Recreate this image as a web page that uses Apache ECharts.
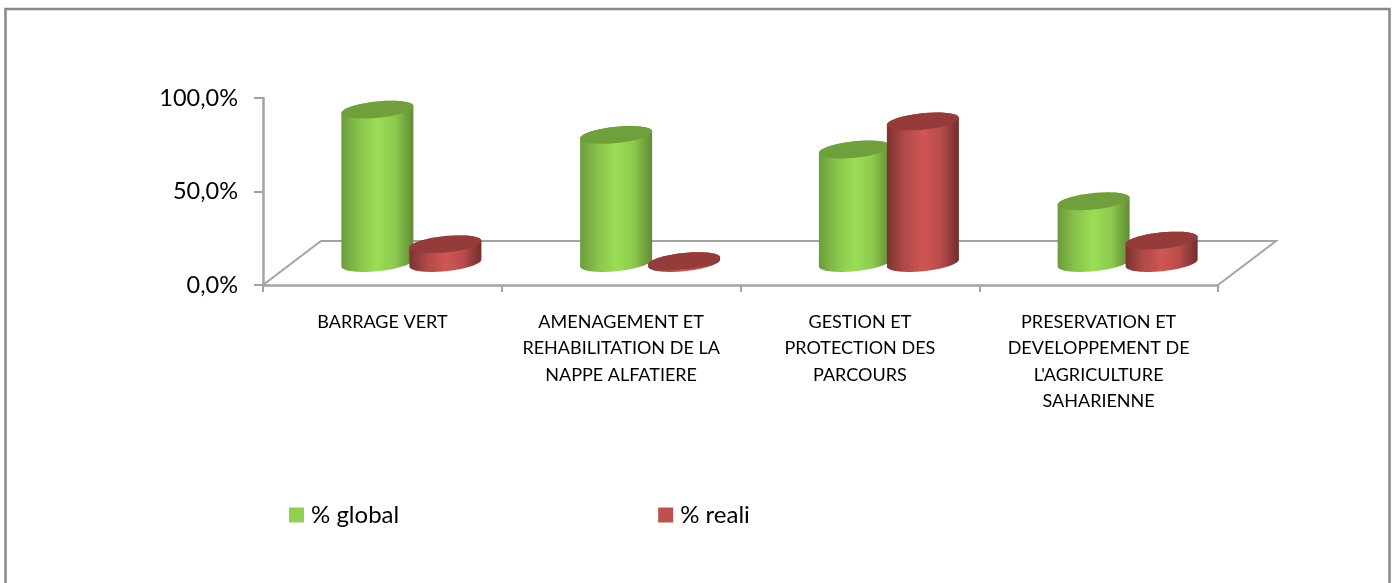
<!DOCTYPE html>
<html>
<head>
<meta charset="utf-8">
<style>
html,body{margin:0;padding:0;background:#fff;}
#main{width:1395px;height:583px;}
</style>
<script src="https://cdn.jsdelivr.net/npm/echarts@6/dist/echarts.min.js"></script>
</head>
<body>
<div id="main"></div>
<script>
var categories = [
	'BARRAGE VERT',
	'AMENAGEMENT ET\nREHABILITATION DE LA\nNAPPE ALFATIERE',
	'GESTION ET\nPROTECTION DES\nPARCOURS',
	"PRESERVATION ET\nDEVELOPPEMENT DE\nL'AGRICULTURE\nSAHARIENNE"
];
var globalValues = [82, 68.5, 60.7, 33];
var realiValues = [10, 1, 75.7, 12];

// floor depth of the fake 3D box, in px
var DEPTH_X = 58;
var DEPTH_Y = 44;
var CYL_RX = 36;
var CYL_RY = 8.2;
var CYL_TILT = 3.5;
var font = 'Lato';

function ellipsePoint(cx, cy, t){
	return [cx + CYL_RX * Math.cos(t), cy - CYL_TILT * Math.cos(t) + CYL_RY * Math.sin(t)];
}

function cylinder(shift, sideStops, topColor){
	return function(params, api){
		var cat = api.value(0);
		var base = api.coord([cat, 0]);
		var top = api.coord([cat, api.value(1)]);
		var cx = base[0] + DEPTH_X / 2 + shift;
		var by = base[1] - DEPTH_Y / 2;
		var ty = top[1] - DEPTH_Y / 2;
		var body = [], lid = [], i;
		// lower half of the base, then upper half of the lid
		for(i = 0; i <= 40; i++){
			body.push(ellipsePoint(cx, by, Math.PI - Math.PI * i / 40));
		}
		for(i = 0; i <= 40; i++){
			body.push(ellipsePoint(cx, ty, -Math.PI * i / 40));
		}
		for(i = 0; i < 80; i++){
			lid.push(ellipsePoint(cx, ty, 2 * Math.PI * i / 80));
		}
		return {
			type: 'group',
			children: [
				{
					type: 'polygon',
					shape: {points: body},
					style: {fill: new echarts.graphic.LinearGradient(0, 0, 1, 0, sideStops)}
				},
				{
					type: 'polygon',
					shape: {points: lid},
					style: {fill: topColor}
				}
			]
		};
	};
}

function drawFloor(params, api){
	var box = params.coordSys;
	var y = box.y + box.height;
	return {
		type: 'polyline',
		shape: {points: [
			[box.x, y],
			[box.x + DEPTH_X, y - DEPTH_Y],
			[box.x + box.width + DEPTH_X, y - DEPTH_Y],
			[box.x + box.width, y]
		]},
		style: {fill: 'none', stroke: '#a3a3a3', lineWidth: 2}
	};
}

var greenStops = [
	{offset: 0, color: '#6d9c3b'},
	{offset: 0.25, color: '#88c44b'},
	{offset: 0.5, color: '#9bde56'},
	{offset: 0.75, color: '#8cc94d'},
	{offset: 1, color: '#5f8a33'}
];
var redStops = [
	{offset: 0, color: '#7c3331'},
	{offset: 0.25, color: '#b04a48'},
	{offset: 0.5, color: '#cf5654'},
	{offset: 0.75, color: '#b84c4a'},
	{offset: 1, color: '#6f2e2c'}
];

function pairs(values){
	var out = [];
	for(var i = 0; i < values.length; i++){
		out.push([i, values[i]]);
	}
	return out;
}

var option = {
	animation: false,
	backgroundColor: '#fff',
	textStyle: {fontFamily: font},
	grid: {left: 263, right: 177, top: 98, bottom: 298},
	legend: {
		left: 284,
		top: 498,
		data: ['% global', '% reali'],
		icon: 'rect',
		itemWidth: 15,
		itemHeight: 15,
		itemGap: 259,
		itemStyle: {borderWidth: 0},
		textStyle: {fontFamily: font, fontSize: 24, color: '#000', padding: [0, 0, 0, 2]}
	},
	xAxis: {
		type: 'category',
		data: categories,
		axisLine: {lineStyle: {color: '#a3a3a3', width: 2.5}},
		axisTick: {show: true, length: 7, lineStyle: {color: '#a3a3a3', width: 2}},
		axisLabel: {
			interval: 0,
			margin: 24,
			fontFamily: font,
			fontSize: 18,
			lineHeight: 26.3,
			color: '#000',
			verticalAlign: 'top'
		}
	},
	yAxis: {
		type: 'value',
		min: 0,
		max: 100,
		interval: 50,
		splitLine: {show: false},
		axisLine: {show: true, lineStyle: {color: '#a3a3a3', width: 2.5}},
		axisTick: {show: true, length: 9, lineStyle: {color: '#a3a3a3', width: 2}},
		axisLabel: {
			margin: 25,
			fontFamily: font,
			fontSize: 23.5,
			color: '#000',
			formatter: function(v){
				return v.toFixed(1).replace('.', ',') + '%';
			}
		}
	},
	graphic: [{
		type: 'polyline',
		shape: {points: [[5.5, 583], [5.5, 9], [1389.5, 9], [1389.5, 583]]},
		style: {fill: 'none', stroke: '#888', lineWidth: 2.5}
	}],
	series: [
		{
			name: 'floor',
			type: 'custom',
			renderItem: drawFloor,
			data: [[0, 0]],
			encode: {x: 0, y: 1},
			clip: false,
			silent: true
		},
		{
			name: '% global',
			type: 'custom',
			renderItem: cylinder(-34, greenStops, '#70a03c'),
			data: pairs(globalValues),
			encode: {x: 0, y: 1},
			clip: false,
			itemStyle: {color: '#92d050'}
		},
		{
			name: '% reali',
			type: 'custom',
			renderItem: cylinder(34, redStops, '#953b39'),
			data: pairs(realiValues),
			encode: {x: 0, y: 1},
			clip: false,
			itemStyle: {color: '#c0504d'}
		}
	]
};

var myChart = echarts.init(document.getElementById('main'));
myChart.setOption(option);
</script>
</body>
</html>
